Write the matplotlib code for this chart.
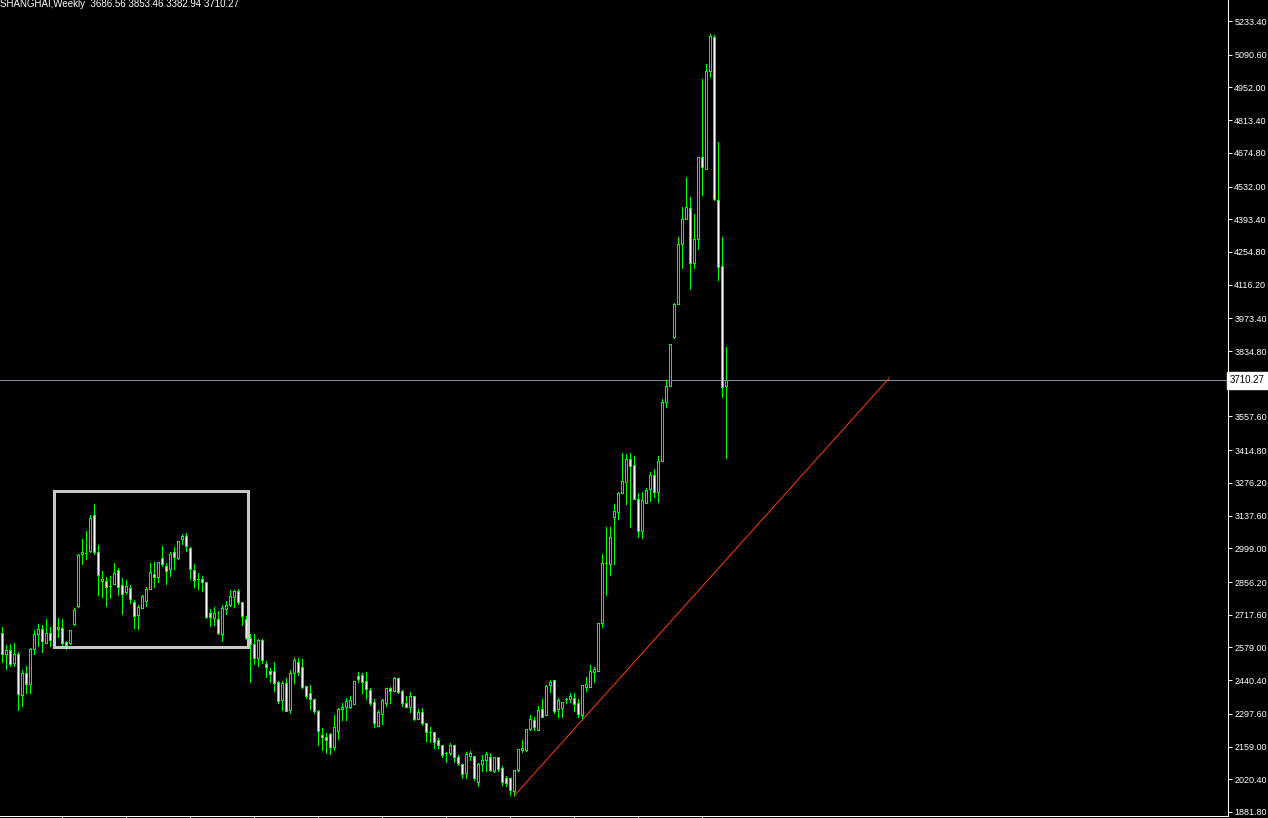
import matplotlib
matplotlib.use("Agg")
import matplotlib.pyplot as plt
from matplotlib.patches import Rectangle
from matplotlib.transforms import blended_transform_factory

# ==========================================
# DATA (weekly OHLC)
# ==========================================
opens = [2639, 2550, 2567, 2514, 2551, 2376, 2469, 2423, 2574, 2634,
         2656, 2596, 2639, 2609, 2659, 2660, 2602, 2596, 2677, 2753,
         2974, 2979, 2986, 3140, 2982, 2861, 2859, 2838, 2846, 2907,
         2842, 2815, 2829, 2772, 2715, 2747, 2774, 2825, 2889, 2877,
         2959, 2923, 2910, 2982, 2959, 3037, 3050, 2999, 2906, 2868,
         2868, 2855, 2724, 2702, 2698, 2637, 2743, 2757, 2794, 2817,
         2770, 2700, 2620, 2592, 2533, 2611, 2509, 2479, 2479, 2434,
         2356, 2427, 2314, 2469, 2516, 2495, 2416, 2385, 2359, 2311,
         2208, 2201, 2211, 2159, 2226, 2320, 2328, 2328, 2339, 2458,
         2462, 2437, 2399, 2346, 2246, 2296, 2342, 2409, 2394, 2448,
         2394, 2342, 2328, 2372, 2274, 2305, 2257, 2222, 2221, 2187,
         2164, 2130, 2130, 2164, 2116, 2085, 2045, 2120, 2119, 2010,
         2085, 2102, 2116, 2057, 2116, 2067, 2024, 2024, 1972, 2060,
         2144, 2144, 2232, 2272, 2229, 2317, 2291, 2420, 2441, 2317,
         2321, 2359, 2362, 2363, 2342, 2291, 2413, 2413, 2476, 2481,
         2681, 2935, 2933, 3133, 3154, 3232, 3281, 3377, 3352, 3207,
         3074, 3192, 3250, 3310, 3239, 3370, 3617, 3688, 3896, 4033,
         4287, 4393, 4439, 4207, 4308, 4656, 4608, 5023, 5164, 4474,
         4195, 3686.56]
highs = [2666, 2589, 2594, 2598, 2560, 2483, 2500, 2578, 2654, 2678,
         2674, 2700, 2666, 2640, 2704, 2700, 2608, 2655, 2746, 2975,
         3038, 3072, 3140, 3187, 3013, 2903, 2877, 2880, 2937, 2916,
         2875, 2865, 2844, 2780, 2757, 2803, 2837, 2937, 2942, 2940,
         3010, 2937, 2983, 3005, 3031, 3060, 3064, 3003, 2933, 2893,
         2880, 2858, 2740, 2749, 2733, 2757, 2777, 2821, 2822, 2827,
         2771, 2714, 2636, 2636, 2613, 2615, 2523, 2493, 2517, 2438,
         2437, 2448, 2483, 2536, 2533, 2529, 2416, 2420, 2359, 2314,
         2239, 2215, 2218, 2293, 2322, 2342, 2363, 2373, 2437, 2476,
         2469, 2476, 2406, 2360, 2314, 2360, 2406, 2413, 2455, 2448,
         2399, 2373, 2389, 2372, 2317, 2321, 2260, 2240, 2222, 2194,
         2166, 2137, 2173, 2166, 2123, 2085, 2137, 2140, 2120, 2088,
         2123, 2137, 2130, 2116, 2116, 2077, 2034, 2024, 2060, 2147,
         2187, 2232, 2293, 2286, 2331, 2359, 2420, 2441, 2441, 2363,
         2349, 2366, 2385, 2385, 2359, 2420, 2455, 2505, 2498, 2684,
         2975, 3088, 3088, 3187, 3239, 3402, 3399, 3401, 3390, 3235,
         3239, 3253, 3321, 3334, 3390, 3632, 3712, 3863, 4037, 4317,
         4444, 4571, 4486, 4414, 4656, 4986, 5051, 5178, 5174, 4721,
         4317, 3853.46]
lows = [2519, 2489, 2502, 2500, 2314, 2332, 2385, 2387, 2553, 2587,
        2561, 2596, 2587, 2590, 2625, 2587, 2571, 2592, 2675, 2750,
        2931, 2955, 2985, 2975, 2801, 2791, 2756, 2790, 2846, 2803,
        2719, 2805, 2767, 2663, 2659, 2745, 2756, 2825, 2837, 2858,
        2926, 2849, 2883, 2913, 2955, 3019, 2989, 2868, 2834, 2828,
        2817, 2704, 2671, 2673, 2637, 2608, 2722, 2756, 2752, 2763,
        2676, 2615, 2434, 2510, 2502, 2515, 2455, 2433, 2395, 2345,
        2314, 2311, 2303, 2427, 2462, 2409, 2366, 2317, 2300, 2166,
        2145, 2130, 2128, 2145, 2190, 2272, 2272, 2321, 2339, 2434,
        2387, 2361, 2335, 2241, 2246, 2255, 2331, 2345, 2394, 2385,
        2331, 2325, 2307, 2272, 2274, 2249, 2184, 2180, 2152, 2152,
        2116, 2095, 2123, 2095, 2081, 2025, 2024, 2102, 2017, 1993,
        2057, 2057, 2057, 2050, 2057, 1996, 1993, 1954, 1951, 2057,
        2137, 2141, 2229, 2229, 2229, 2286, 2291, 2392, 2303, 2286,
        2283, 2342, 2349, 2311, 2286, 2279, 2396, 2413, 2434, 2481,
        2667, 2801, 2886, 2933, 3123, 3232, 3187, 3088, 3208, 3046,
        3041, 3192, 3199, 3218, 3197, 3370, 3599, 3688, 3889, 4033,
        4188, 4393, 4099, 4188, 4269, 4498, 4608, 4997, 4475, 4136,
        3639, 3382.94]
closes = [2551, 2567, 2510, 2551, 2380, 2469, 2423, 2572, 2636, 2656,
          2605, 2639, 2609, 2620, 2666, 2596, 2588, 2651, 2736, 2969,
          2983, 2979, 3126, 2983, 2885, 2869, 2837, 2838, 2893, 2834,
          2804, 2838, 2786, 2712, 2750, 2797, 2827, 2897, 2876, 2940,
          2931, 2904, 2975, 2964, 3029, 3050, 3007, 2910, 2865, 2868,
          2855, 2707, 2707, 2724, 2639, 2745, 2757, 2796, 2817, 2770,
          2711, 2620, 2592, 2533, 2610, 2526, 2495, 2465, 2430, 2354,
          2427, 2311, 2469, 2526, 2476, 2413, 2373, 2359, 2310, 2225,
          2201, 2187, 2159, 2241, 2318, 2328, 2352, 2356, 2437, 2444,
          2434, 2402, 2345, 2260, 2304, 2356, 2406, 2393, 2448, 2392,
          2342, 2328, 2372, 2276, 2305, 2257, 2222, 2222, 2180, 2166,
          2123, 2130, 2166, 2113, 2088, 2043, 2126, 2130, 2024, 2085,
          2102, 2127, 2060, 2116, 2063, 2010, 2003, 1975, 2060, 2147,
          2154, 2232, 2276, 2243, 2314, 2286, 2416, 2431, 2311, 2356,
          2346, 2359, 2373, 2338, 2297, 2420, 2424, 2479, 2486, 2684,
          2935, 2935, 3046, 3157, 3235, 3286, 3377, 3349, 3208, 3074,
          3204, 3246, 3310, 3239, 3370, 3617, 3688, 3863, 4033, 4287,
          4393, 4444, 4207, 4308, 4656, 4615, 5023, 5170, 4481, 4192,
          3681, 3710.27]

title = "SHANGHAI,Weekly  3686.56 3853.46 3382.94 3710.27"
last_price = 3710.27

price_ticks = [5233.40, 5090.60, 4952.00, 4813.40, 4674.80, 4532.00, 4393.40,
               4254.80, 4116.20, 3973.40, 3834.80, 3696.20, 3557.60, 3414.80,
               3276.20, 3137.60, 2999.00, 2856.20, 2717.60, 2579.00, 2440.40,
               2297.60, 2159.00, 2020.40, 1881.80]
time_ticks = [15, 31, 47, 63, 79, 95, 111, 127, 143, 159, 175]

# trend line and box (bar index, price)
trend_x = [128, 221.75]
trend_y = [1951, 3721]
box_x = [12.9, 61.5]
box_y = [2581, 3242]

# ==========================================
# PLOT
# ==========================================
W, H = 1268, 818
px = 0.72  # one pixel in points at dpi 100

fig = plt.figure(figsize=(W / 100, H / 100), dpi=100, facecolor="black")
ax = fig.add_axes([0, 2 / H, 1228 / W, 816 / H], facecolor="black")

green = "#00FF00"
for i in range(len(opens)):
    o, h, l, c = opens[i], highs[i], lows[i], closes[i]
    ax.vlines(i, l, h, colors=green, linewidth=px, antialiased=False, zorder=2)
    bottom = min(o, c)
    height = abs(c - o)
    face = "white" if c < o else "black"
    ax.add_patch(Rectangle((i - 0.25, bottom), 0.5, height, facecolor=face,
                           edgecolor=green, linewidth=px, antialiased=False,
                           zorder=3))

# bid line
ax.axhline(last_price, color="#8090A0", linewidth=px, zorder=1)

# trend line
ax.plot(trend_x, trend_y, color="#FF3C00", linewidth=px, zorder=4)

# box
ax.add_patch(Rectangle((box_x[0], box_y[0]), box_x[1] - box_x[0],
                       box_y[1] - box_y[0], fill=False, edgecolor="#C8C8C8",
                       linewidth=3 * px, antialiased=False, zorder=5))

ax.set_xlim(-0.575, 306.4)
ax.set_ylim(1864.8, 5322.4)

for s in ["left", "top"]:
    ax.spines[s].set_visible(False)
for s in ["right", "bottom"]:
    ax.spines[s].set_color("white")
    ax.spines[s].set_linewidth(px)

ax.yaxis.tick_right()
ax.set_yticks(price_ticks)
ax.set_yticklabels([f"{v:.2f}" for v in price_ticks],
                   fontfamily="Liberation Sans", fontsize=6.5, color="white")
ax.tick_params(axis="y", colors="white", length=3, width=px, pad=1.5,
               labelcolor="white")
ax.set_xticks(time_ticks)
ax.set_xticklabels([])
ax.tick_params(axis="x", colors="white", length=2, width=px)

# last price label, covers the 3696.20 tick label like in the terminal
tr = blended_transform_factory(ax.transAxes, ax.transData)
ax.text(1.0015, last_price, f"{last_price:.2f}", transform=tr, ha="left",
        va="center", fontsize=7, fontfamily="Liberation Sans", color="black",
        clip_on=False, zorder=10,
        bbox=dict(boxstyle="square,pad=0.32", facecolor="white",
                  edgecolor="white"))

fig.text(0.0, 1 - 7 / H, title, color="white", fontsize=7,
         fontfamily="Liberation Sans", va="baseline", ha="left")

fig.savefig("out.png", dpi=100, facecolor="black")
